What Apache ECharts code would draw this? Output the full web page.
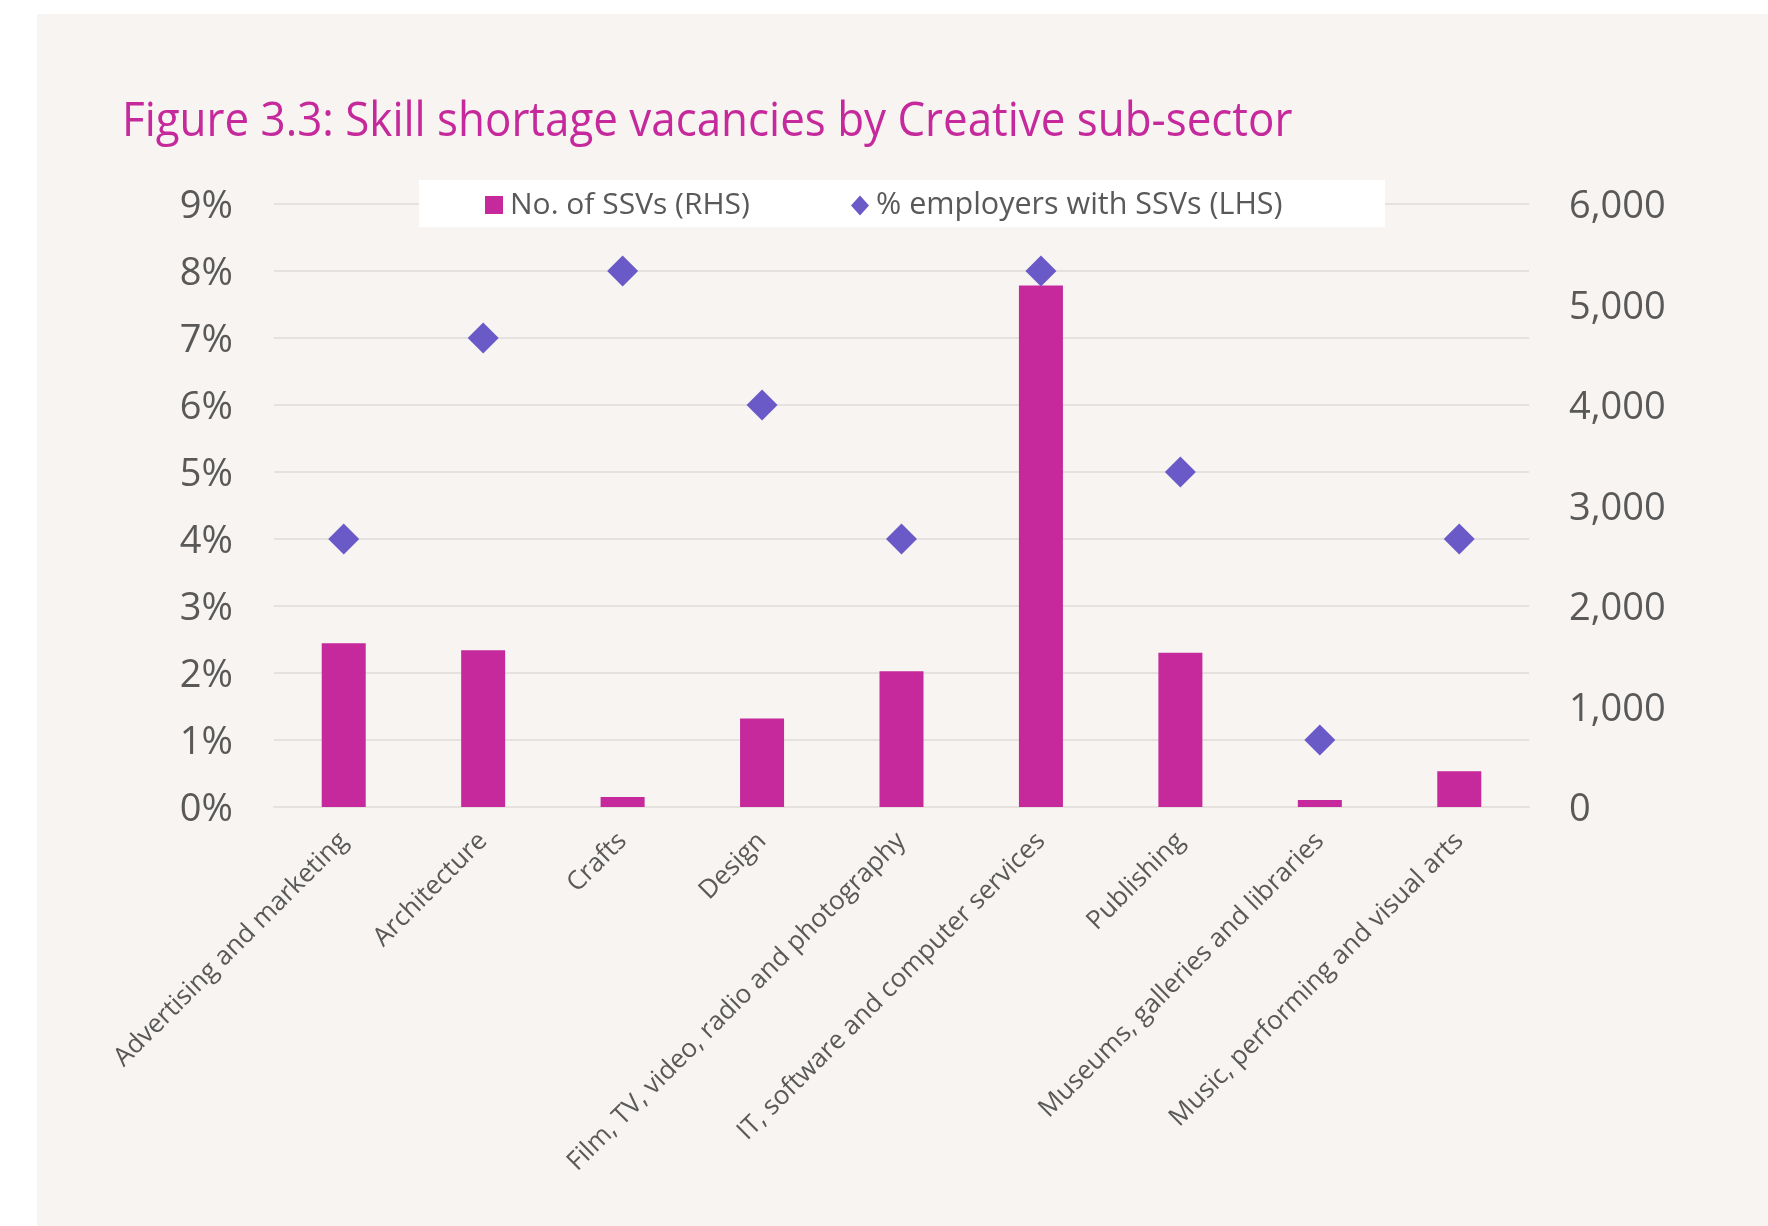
<!DOCTYPE html>
<html>
<head>
<meta charset="utf-8">
<title>Skill shortage vacancies by Creative sub-sector</title>
<script src="https://cdn.jsdelivr.net/npm/echarts@6/dist/echarts.min.js"></script>
<style>
  html, body { margin: 0; padding: 0; background: #ffffff; }
  #panel { position: absolute; left: 37px; top: 14px; width: 1731px; height: 1212px; background: #F7F4F1; }
  #chart { position: absolute; left: 0; top: 0; width: 1768px; height: 1226px; }
</style>
</head>
<body>
<div id="panel"></div>
<div id="chart"></div>
<script>
// Creative sub-sectors
const categories = [
  'Advertising and marketing',
  'Architecture',
  'Crafts',
  'Design',
  'Film, TV, video, radio and photography',
  'IT, software and computer services',
  'Publishing',
  'Museums, galleries and libraries',
  'Music, performing and visual arts'
];

// Number of skill shortage vacancies (right-hand axis)
const ssvCounts = [1630, 1560, 100, 880, 1350, 5190, 1535, 70, 355];

// Share of employers with skill shortage vacancies, % (left-hand axis)
const employerShare = [4, 7, 8, 6, 4, 8, 5, 1, 4];

// Axis ranges and tick labels
const pctTicks = { min: 0, max: 9, interval: 1 };
const countTicks = { min: 0, max: 6000, interval: 1000 };

const seriesNames = ['No. of SSVs (RHS)', '% employers with SSVs (LHS)'];
const titleText = 'Figure 3.3: Skill shortage vacancies by Creative sub-sector';

const MAGENTA = '#C5299B';
const VIOLET = '#6A5AC8';
const LABEL = '#595959';
const GRID = '#E4E1DE';
const FONT = '"Open Sans", "Noto Sans", sans-serif';

// Tick label style, nudged slightly below the gridline centre
const tickRich = {
  t: { fontSize: 38, color: LABEL, fontFamily: FONT, padding: [7, 0, 0, 0] }
};

const chart = echarts.init(document.getElementById('chart'), null, { renderer: 'canvas' });

chart.setOption({
  backgroundColor: 'transparent',
  animation: false,
  textStyle: { fontFamily: FONT },
  graphic: [
    {
      type: 'text',
      left: 122,
      top: 98,
      z: 5,
      style: {
        text: titleText,
        fill: MAGENTA,
        font: '48px "Open Sans", sans-serif'
      },
      scaleX: 0.915
    },
    {
      type: 'rect',
      left: 419,
      top: 180,
      z: 3,
      shape: { width: 966, height: 47 },
      style: { fill: '#ffffff' }
    }
  ],
  legend: [
    {
      data: [{ name: seriesNames[0], icon: 'rect' }],
      left: 480,
      top: 185,
      itemWidth: 18,
      itemHeight: 18,
      textStyle: { fontSize: 30, color: LABEL, fontFamily: FONT, padding: [0, 0, 0, 2] },
      z: 6
    },
    {
      data: [{ name: seriesNames[1], icon: 'diamond' }],
      left: 846,
      top: 185,
      itemWidth: 18,
      itemHeight: 20,
      textStyle: { fontSize: 30.5, color: LABEL, fontFamily: FONT, padding: [0, 0, 0, 2] },
      z: 6
    }
  ],
  grid: { left: 274, right: 239, top: 204, bottom: 419, containLabel: false },
  xAxis: {
    type: 'category',
    data: categories,
    axisLine: { show: true, lineStyle: { color: GRID, width: 2 } },
    axisTick: { show: false },
    axisLabel: {
      rotate: 45,
      interval: 0,
      margin: 30,
      fontSize: 26,
      color: LABEL,
      fontFamily: FONT
    }
  },
  yAxis: [
    {
      type: 'value',
      position: 'left',
      min: pctTicks.min,
      max: pctTicks.max,
      interval: pctTicks.interval,
      axisLine: { show: false },
      axisTick: { show: false },
      axisLabel: {
        formatter: v => '{t|' + v + '%}',
        rich: tickRich,
        margin: 41
      },
      splitLine: { show: true, lineStyle: { color: GRID, width: 2 } }
    },
    {
      type: 'value',
      position: 'right',
      min: countTicks.min,
      max: countTicks.max,
      interval: countTicks.interval,
      axisLine: { show: false },
      axisTick: { show: false },
      axisLabel: {
        formatter: v => '{t|' + v.toLocaleString('en-GB') + '}',
        rich: tickRich,
        margin: 40
      },
      splitLine: { show: false }
    }
  ],
  series: [
    {
      name: seriesNames[0],
      type: 'bar',
      yAxisIndex: 1,
      data: ssvCounts,
      barWidth: 44,
      itemStyle: { color: MAGENTA }
    },
    {
      name: seriesNames[1],
      type: 'scatter',
      yAxisIndex: 0,
      data: employerShare,
      symbol: 'diamond',
      symbolSize: 31,
      itemStyle: { color: VIOLET, opacity: 1 },
      z: 4
    }
  ]
});
</script>
</body>
</html>
